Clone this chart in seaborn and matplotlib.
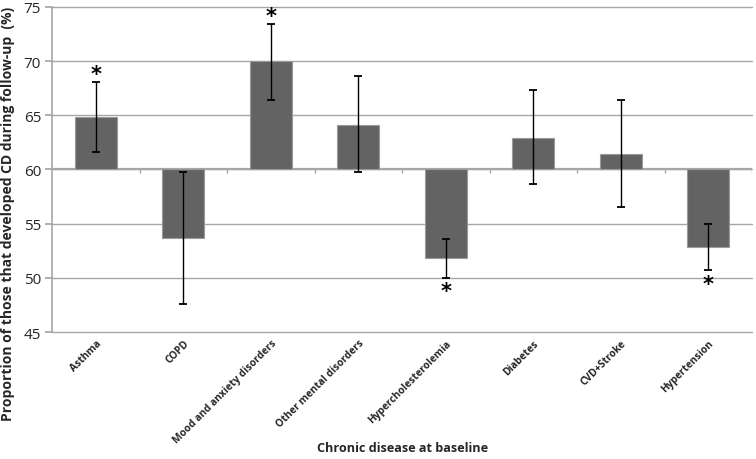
import matplotlib
matplotlib.use("Agg")
import matplotlib.pyplot as plt
import seaborn as sns
import pandas as pd
import numpy as np

categories = ["Asthma", "COPD", "Mood and anxiety disorders", "Other mental disorders",
              "Hypercholesterolemia", "Diabetes", "CVD+Stroke", "Hypertension"]
values = [64.8, 53.7, 70.0, 64.1, 51.8, 62.9, 61.4, 52.8]
err_low = [61.6, 47.6, 66.4, 59.8, 50.0, 58.7, 56.5, 50.7]
err_high = [68.1, 59.8, 73.4, 68.6, 53.6, 67.3, 66.4, 55.0]
significant = [True, False, True, False, True, False, False, True]
baseline = 60

sns.set_theme(style="white")
plt.rcParams['font.family'] = ['Open Sans', 'DejaVu Sans']

df = pd.DataFrame({"cat": categories, "diff": [v - baseline for v in values]})

fig = plt.figure(figsize=(7.56, 4.6), dpi=100)
ax = fig.add_axes([0.069, 0.276, 0.926, 0.707])

grid_c = "#a6a6a6"
for yv in range(45, 80, 5):
    ax.axhline(yv, color=grid_c, lw=1.0, zorder=0, clip_on=False)

sns.barplot(data=df, x="cat", y="diff", bottom=baseline, color="#636363",
            edgecolor="#9a9a9a", linewidth=0.8, width=0.48, saturation=1,
            ax=ax, zorder=2)

x = np.arange(len(categories))
vals = np.array(values)
lo = vals - np.array(err_low)
hi = np.array(err_high) - vals
ax.errorbar(x, vals, yerr=[lo, hi], fmt="none", ecolor="black", elinewidth=1.0,
            capsize=2.6, capthick=1.3, zorder=3)

# axis line at baseline with small ticks between categories
ax.axhline(baseline, color=grid_c, lw=1.6, zorder=1)
ax.vlines(np.arange(len(categories)) + 0.5, baseline - 0.35, baseline, color=grid_c, lw=1.0, zorder=1)

for i, s in enumerate(significant):
    if s:
        if values[i] >= baseline:
            ax.text(i, err_high[i] - 0.2, "*", ha="center", va="bottom", fontsize=15,
                    fontweight="bold", color="black", family="DejaVu Sans")
        else:
            ax.text(i, err_low[i] - 0.3, "*", ha="center", va="top", fontsize=15,
                    fontweight="bold", color="black", family="DejaVu Sans")

ax.set_ylim(45, 75)
ax.set_xlim(-0.5, len(categories) - 0.5)
ax.set_yticks(range(45, 80, 5))
ax.tick_params(axis="y", labelsize=11, length=5, color=grid_c, direction="out", left=True, pad=3)
ax.tick_params(axis="x", length=0, pad=4)
ax.set_xticks(x)
ax.set_xticklabels(categories, rotation=45, ha="right", rotation_mode="anchor",
                   fontsize=7.3, fontweight="bold")

for sp in ["top", "right", "bottom"]:
    ax.spines[sp].set_visible(False)
ax.spines["left"].set_color(grid_c)
ax.spines["left"].set_linewidth(1.2)

ax.set_ylabel("Proportion of those that developed CD during follow-up  (%)",
              fontsize=10, fontweight="bold")
ax.set_xlabel("Chronic disease at baseline", fontsize=9.1, fontweight="bold")
ax.yaxis.set_label_coords(-0.053, 0.365)
ax.xaxis.set_label_coords(0.5, -0.335)

fig.savefig("out.png", dpi=100)
